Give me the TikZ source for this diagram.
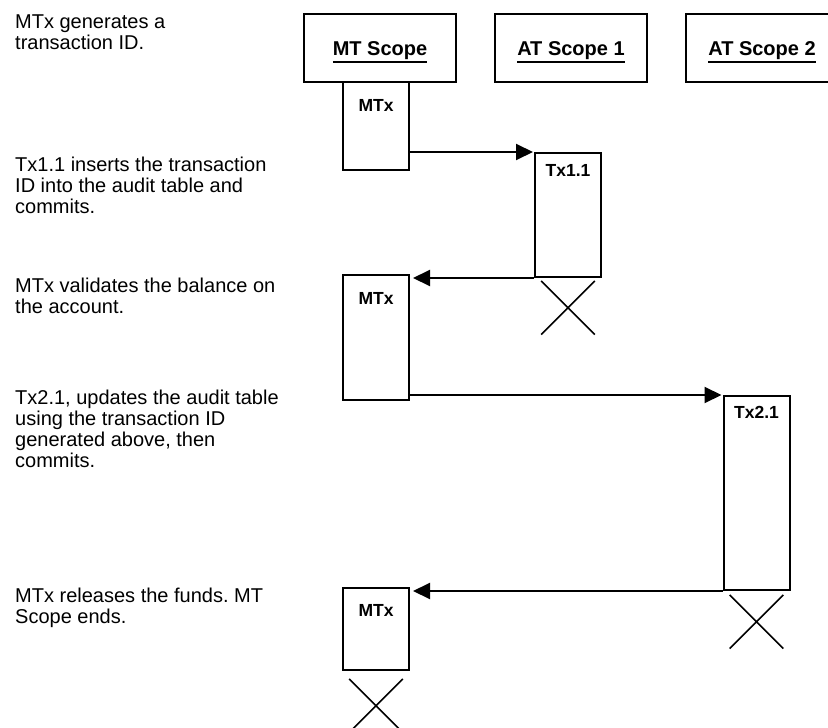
\documentclass[tikz,border=0pt]{standalone}
\usepackage{fontspec}
\setmainfont{Liberation Sans}
\usetikzlibrary{arrows.meta,positioning,shapes.misc}
\frenchspacing

\newsavebox{\hdrbox}
\newcommand{\hdrtext}[1]{\sbox{\hdrbox}{#1}\rlap{\rule[-8pt]{\wd\hdrbox}{2pt}}\usebox{\hdrbox}}

\begin{document}
\begin{tikzpicture}[x=1pt, y=-1pt,
    scopebox/.style={draw, line width=2pt, minimum width=152pt, minimum height=68pt, text height=14pt, text depth=0pt, font=\bfseries\fontsize{20}{24}\selectfont},
    act/.style={draw, line width=2pt, minimum width=66pt, inner sep=0pt},
    lbl/.style={anchor=base, font=\bfseries\fontsize{17.5}{20}\selectfont, yshift=-#1},
    lbl/.default=27pt,
    note/.style={anchor=north west, inner sep=0pt, align=left, font=\fontsize{20}{21}\selectfont},
    endmark/.style={draw, cross out, minimum size=52pt, inner sep=0pt, line width=1.6pt},
    msg/.style={-{Triangle[length=17pt,width=16pt]}, line width=2pt}
]
\useasboundingbox (0,0) rectangle (828,728);
\clip (0,0) rectangle (828,728);

\node[note] (n1) at (15,15) {MTx generates a\\transaction ID.};
\node[note] (n2) at (15,157) {Tx1.1 inserts the transaction\\ID into the audit table and\\commits.};
\node[note] (n3) at (15,278) {MTx validates the balance on\\the account.};
\node[note] (n4) at (15,390) {Tx2.1, updates the audit table\\using the transaction ID\\generated above, then\\commits.};
\node[note] (n5) at (15,588) {MTx releases the funds. MT\\Scope ends.};

\node[scopebox] (mt) at (380,48) {\hdrtext{MT Scope}};
\node[scopebox] (at1) at (571,48) {\hdrtext{AT Scope 1}};
\node[scopebox] (at2) at (762,48) {\hdrtext{AT Scope 2}};

\node[act, minimum height=88pt, label={[lbl=30pt]north:MTx}] (mtx1) at (376,126) {};
\node[act, minimum height=124pt, label={[lbl=24pt]north:Tx1.1}] (tx11) at (568,215) {};
\node[endmark, below=3pt of tx11] (end1) {};
\node[act, minimum height=125pt, label={[lbl=30pt]north:MTx}] (mtx2) at (376,337.5) {};
\node[act, minimum height=194pt, label={[lbl=23pt]north:Tx2.1}] (tx21) at (756.5,493) {};
\node[endmark, below=4pt of tx21] (end2) {};
\node[act, minimum height=82pt, label={[lbl=29pt]north:MTx}] (mtx3) at (376,629) {};
\node[endmark, below=8pt of mtx3] (end3) {};

\draw[msg, shorten >=1pt] (mtx1.east |- tx11.north) -- (tx11.north west);
\draw[msg, shorten >=3pt] (tx11.south west) -- (tx11.south west -| mtx2.east);
\draw[msg, shorten >=1pt] (mtx2.east |- tx21.north) -- (tx21.north west);
\draw[msg, shorten >=3pt] (tx21.south west) -- (tx21.south west -| mtx3.east);
\end{tikzpicture}
\end{document}
